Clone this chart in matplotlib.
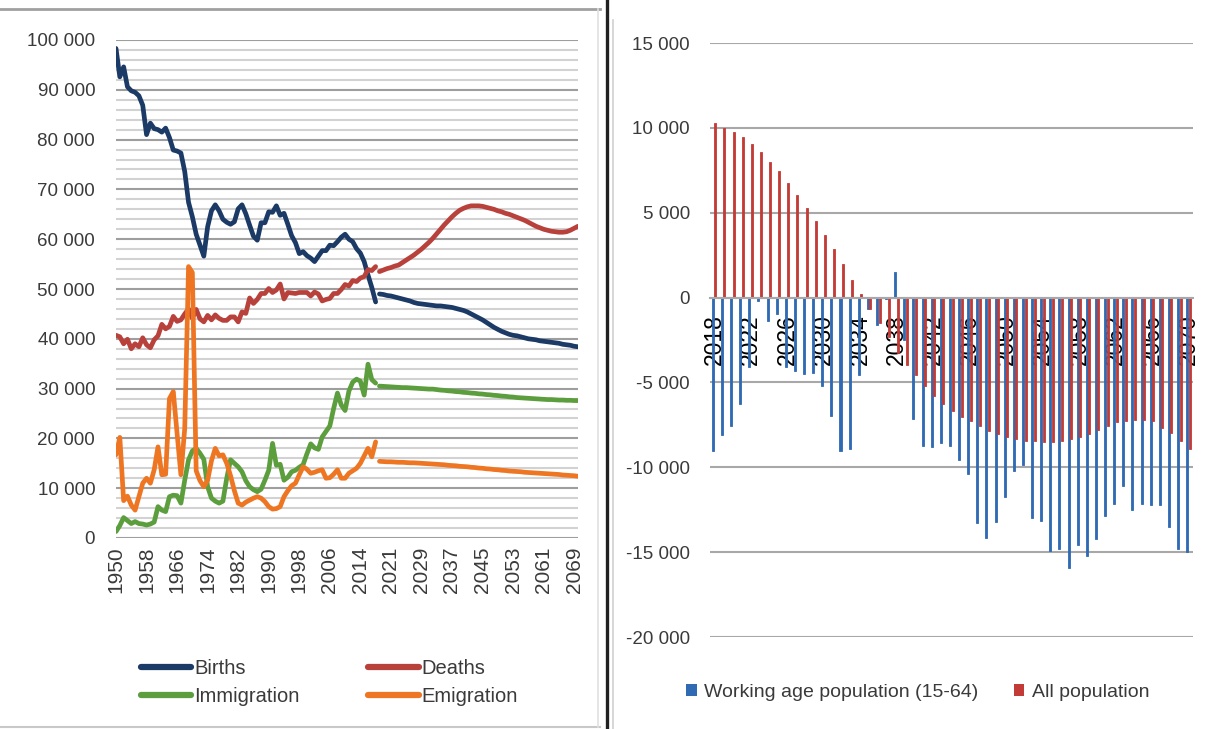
import matplotlib
matplotlib.use("Agg")
import matplotlib.pyplot as plt
import numpy as np
from matplotlib.ticker import FuncFormatter, MultipleLocator
from matplotlib.lines import Line2D
from matplotlib.patches import Patch

# ---------------- data: left panel ----------------
hist_years = list(range(1950, 2019))
proj_years = list(range(2018, 2071))

births_hist = [98300, 92600, 94600, 90600, 89800, 89500, 88800, 86900, 81000, 83300,
               82200, 82000, 81500, 82300, 80400, 77900, 77700, 77300, 73600, 67400,
               64500, 61000, 58800, 56600, 62500, 65700, 66900, 65700, 64000, 63400,
               63000, 63500, 66100, 66900, 65100, 62800, 60600, 59800, 63300, 63300,
               65500, 65400, 66700, 64800, 65200, 63000, 60700, 59300, 57100, 57500,
               56700, 56200, 55500, 56600, 57700, 57700, 58800, 58700, 59500, 60400,
               61000, 60000, 59500, 58100, 57200, 55500, 52800, 50300, 47400]
deaths_hist = [40700, 40400, 39000, 39900, 38000, 39000, 38400, 40200, 38800, 38200,
               39800, 40600, 42900, 42000, 42500, 44500, 43500, 43800, 45000, 46000,
               44100, 45900, 44000, 43400, 44700, 43800, 44800, 44100, 43700, 43700,
               44400, 44400, 43400, 45400, 45100, 48200, 47100, 47900, 49100, 49100,
               50100, 49300, 49800, 51000, 48000, 49300, 49200, 49100, 49300, 49300,
               49300, 48600, 49400, 49000, 47600, 47900, 48100, 49100, 49100, 49900,
               50900, 50600, 51700, 51500, 52200, 52500, 53900, 53700, 54500]
immigration_hist = [1300, 2500, 4100, 3500, 2900, 3300, 2900, 2800, 2600, 2800,
                    3200, 6300, 5600, 5300, 8300, 8600, 8500, 7000, 11600, 15700,
                    17500, 18000, 17000, 15800, 10300, 8000, 7400, 7000, 7400, 12000,
                    15700, 15000, 14300, 13300, 11500, 10300, 9700, 9300, 9800, 11600,
                    13600, 19000, 14600, 14800, 11600, 12200, 13300, 13600, 14200, 14700,
                    16900, 18900, 18100, 17800, 20300, 21400, 22500, 26000, 29100, 26700,
                    25600, 29500, 31300, 31900, 31500, 28700, 34900, 31800, 31100]
emigration_hist = [16700, 20200, 7500, 8400, 6600, 5600, 8300, 11000, 12000, 11000,
                   13700, 18300, 12700, 12800, 28000, 29400, 21000, 12700, 22000, 54500,
                   53300, 13500, 11500, 10300, 11600, 15500, 18000, 16500, 16700, 15000,
                   12500, 9500, 7000, 6600, 7200, 7600, 8000, 8300, 8000, 7300,
                   6300, 5800, 5900, 6300, 8300, 9500, 10500, 11000, 12700, 14300,
                   13800, 13000, 13200, 13500, 13700, 12000, 12100, 12800, 13700, 12000,
                   12000, 13000, 13500, 14000, 15000, 16500, 18000, 16300, 19300]

births_proj = [49000, 48900, 48700, 48600, 48400, 48200, 48000, 47800, 47600, 47300,
               47100, 47000, 46900, 46800, 46700, 46600, 46600, 46500, 46400, 46300,
               46100, 45900, 45700, 45400, 45000, 44600, 44200, 43800, 43300, 42800,
               42300, 41900, 41500, 41200, 40900, 40700, 40600, 40400, 40200, 40000,
               39900, 39800, 39600, 39500, 39400, 39300, 39200, 39100, 38900, 38800,
               38700, 38500, 38400]
deaths_proj = [53500, 53800, 54100, 54300, 54600, 54800, 55300, 55800, 56300, 56800,
               57400, 58000, 58700, 59400, 60200, 61100, 62000, 62900, 63700, 64500,
               65200, 65800, 66200, 66500, 66700, 66700, 66700, 66600, 66400, 66200,
               66000, 65700, 65500, 65200, 65000, 64700, 64400, 64100, 63800, 63400,
               63000, 62600, 62300, 62000, 61800, 61600, 61500, 61400, 61400, 61500,
               61800, 62200, 62600]
immigration_proj = [30500, 30450, 30400, 30350, 30300, 30250, 30200, 30200, 30150, 30100,
                    30050, 30000, 29950, 29900, 29900, 29800, 29700, 29650, 29550, 29500,
                    29400, 29350, 29250, 29200, 29100, 29050, 28950, 28900, 28800, 28750,
                    28650, 28600, 28500, 28450, 28350, 28300, 28200, 28150, 28100, 28050,
                    28000, 27950, 27900, 27850, 27800, 27800, 27750, 27700, 27700, 27650,
                    27650, 27600, 27600]
emigration_proj = [15400, 15350, 15300, 15300, 15250, 15200, 15200, 15150, 15100, 15100,
                   15050, 15000, 14950, 14900, 14850, 14800, 14750, 14700, 14600, 14550,
                   14500, 14400, 14350, 14300, 14200, 14150, 14050, 14000, 13900, 13850,
                   13750, 13700, 13600, 13550, 13450, 13400, 13350, 13300, 13200, 13150,
                   13100, 13050, 13000, 12950, 12900, 12850, 12800, 12750, 12650, 12600,
                   12550, 12500, 12400]

left_categories = [str(y) for y in hist_years + proj_years]
left_series_names = ["Births", "Deaths", "Immigration", "Emigration"]
left_colors = ["#1c3a66", "#b9413b", "#5c9e3d", "#ee7623"]

# ---------------- data: right panel ----------------
right_years = list(range(2018, 2071))
working_age = [-9030, -8110, -7560, -6290, -4100, -200, -1400, -950, -4100, -4300,
               -4530, -4460, -5200, -7000, -9030, -8900, -4570, -700, -1600, -100,
               1530, -2500, -7130, -8760, -8800, -8570, -8760, -9600, -10390, -13270,
               -14150, -13210, -11760, -10230, -9840, -13000, -13170, -14950, -14800, -15950,
               -14600, -15250, -14210, -12870, -12150, -11100, -12540, -12150, -12200, -12250,
               -13520, -14800, -14990]
all_population = [10260, 10020, 9770, 9440, 9050, 8600, 8010, 7440, 6780, 6060,
                  5280, 4490, 3670, 2850, 1970, 1040, 200, -650, -1500, -2350,
                  -3250, -3960, -4590, -5230, -5820, -6270, -6700, -7060, -7290, -7590,
                  -7840, -8040, -8230, -8310, -8430, -8480, -8530, -8530, -8450, -8350,
                  -8200, -8040, -7800, -7550, -7350, -7250, -7230, -7220, -7300, -7700,
                  -8000, -8430, -8920]
right_series_names = ["Working age population (15-64)", "All population"]
right_colors = ["#2f6ab3", "#c33b36"]

# ---------------- figure ----------------
plt.rcParams['font.family'] = ['Liberation Sans', 'DejaVu Sans']
W, H = 1207, 729
fig = plt.figure(figsize=(W / 100, H / 100), dpi=100)


def fx(px):
    return px / W


def fy(py):
    return 1 - py / H


def space_fmt(v, pos=None):
    return f"{int(round(v)):,}".replace(",", " ")


# ---- left axes
ax1 = fig.add_axes([fx(116), fy(538), fx(578) - fx(116), fy(40) - fy(538)])
n_hist = len(hist_years)
x_hist = np.arange(n_hist)
x_proj = np.arange(n_hist, n_hist + len(proj_years))
hist_series = [births_hist, deaths_hist, immigration_hist, emigration_hist]
proj_series = [births_proj, deaths_proj, immigration_proj, emigration_proj]
handles = []
for name, col, h, p in zip(left_series_names, left_colors, hist_series, proj_series):
    ax1.plot(x_hist, h, color=col, lw=3.4, solid_capstyle='round', solid_joinstyle='round')
    ax1.plot(x_proj, p, color=col, lw=3.4, solid_capstyle='round', solid_joinstyle='round')
    handles.append(Line2D([], [], color=col, lw=4.5, solid_capstyle='round'))

ax1.set_xlim(0, len(left_categories) - 1)
ax1.set_ylim(0, 100000)
ax1.yaxis.set_major_locator(MultipleLocator(10000))
ax1.yaxis.set_minor_locator(MultipleLocator(2000))
ax1.yaxis.set_major_formatter(FuncFormatter(space_fmt))
ax1.set_axisbelow(True)
ax1.grid(which='minor', axis='y', color='#d2d2d2', lw=1.5)
ax1.grid(which='major', axis='y', color='#9e9e9e', lw=1.5)
tick_idx = list(range(0, len(left_categories), 8))
ax1.set_xticks(tick_idx)
ax1.set_xticklabels([left_categories[i] for i in tick_idx], rotation=90)
ax1.tick_params(axis='x', length=0, pad=6, labelsize=15, labelcolor='#3a3a3a')
ax1.tick_params(axis='y', which='both', length=0, pad=15, labelsize=13.5, labelcolor='#3a3a3a')
for s in ax1.spines.values():
    s.set_visible(False)

# matplotlib fills legend columns first -> order Births, Immigration, Deaths, Emigration
order = [0, 2, 1, 3]
leg1 = ax1.legend([handles[i] for i in order], [left_series_names[i] for i in order],
                  ncol=2, frameon=False, fontsize=14.5,
                  loc='upper left', bbox_to_anchor=(fx(141), fy(659)),
                  bbox_transform=fig.transFigure, borderpad=0, borderaxespad=0,
                  handlelength=2.5, handletextpad=0.15, columnspacing=3.4,
                  labelspacing=0.45)
for t in leg1.get_texts():
    t.set_color('#3a3a3a')

# ---- right axes
ax2 = fig.add_axes([fx(709.5), fy(637), fx(1193) - fx(709.5), fy(43) - fy(637)])
xr = np.arange(len(right_years))
ax2.bar(xr - 0.14, working_age, width=0.22, color=right_colors[0],
        edgecolor=right_colors[0], linewidth=0.6, zorder=2)
ax2.bar(xr + 0.14, all_population, width=0.22, color=right_colors[1],
        edgecolor=right_colors[1], linewidth=0.6, zorder=2)
ax2.set_xlim(-0.5, len(right_years) - 0.5)
ax2.set_ylim(-20000, 15000)
yt = list(range(-20000, 15001, 5000))
ax2.set_yticks(yt)
ax2.yaxis.set_major_formatter(FuncFormatter(space_fmt))
for v in yt:
    ax2.axhline(v, color='#a8a8a8', lw=1.5, zorder=0.5)
for name, s in ax2.spines.items():
    s.set_visible(False)
ax2.spines['bottom'].set_visible(True)
ax2.spines['bottom'].set_position(('data', 0))
ax2.spines['bottom'].set_color('#a8a8a8')
ax2.spines['bottom'].set_linewidth(1.5)
rt = list(range(0, len(right_years), 4))
ax2.set_xticks(rt)
ax2.set_xticklabels([str(right_years[i]) for i in rt], rotation=90)
ax2.tick_params(axis='x', length=0, pad=12, labelsize=16.5, labelcolor='black')
ax2.tick_params(axis='y', length=0, pad=14, labelsize=13.5, labelcolor='#3a3a3a')

rh = [Patch(facecolor=c, edgecolor='none') for c in right_colors]
leg2 = ax2.legend(rh, right_series_names, ncol=2, frameon=False, fontsize=14,
                  loc='upper left', bbox_to_anchor=(fx(686), fy(684)),
                  bbox_transform=fig.transFigure, borderpad=0, borderaxespad=0,
                  handlelength=0.55, handleheight=0.55, handletextpad=0.4,
                  columnspacing=1.8)
for t in leg2.get_texts():
    t.set_color('#3a3a3a')

# ---- panel frames / separator
fig.add_artist(Line2D([fx(0), fx(600)], [fy(9), fy(9)], transform=fig.transFigure,
                      color='#a0a0a0', lw=2))
fig.add_artist(Line2D([fx(0), fx(600)], [fy(727), fy(727)], transform=fig.transFigure,
                      color='#c8c8c8', lw=1.5))
fig.add_artist(Line2D([fx(598), fx(598)], [fy(9), fy(727)], transform=fig.transFigure,
                      color='#e0e0e0', lw=1.2))
fig.add_artist(Line2D([fx(607), fx(607)], [0, 1], transform=fig.transFigure,
                      color='#202020', lw=2.4))
fig.add_artist(Line2D([fx(613), fx(613)], [fy(20), 0], transform=fig.transFigure,
                      color='#cfcfcf', lw=1.2))

fig.savefig("out.png", dpi=100)
